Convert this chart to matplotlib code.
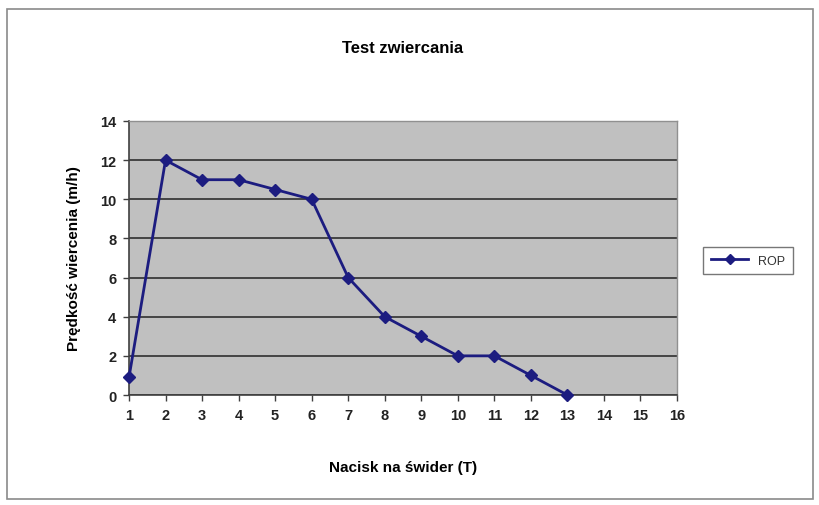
import matplotlib
matplotlib.use("Agg")
import matplotlib.pyplot as plt
from matplotlib.patches import Rectangle

plt.rcParams['font.family'] = ['Liberation Sans', 'DejaVu Sans']

nacisk = [1, 2, 3, 4, 5, 6, 7, 8, 9, 10, 11, 12, 13]
rop = [0.9, 12, 11, 11, 10.5, 10, 6, 4, 3, 2, 2, 1, 0]
xticks = list(range(1, 17))
yticks = [0, 2, 4, 6, 8, 10, 12, 14]

fig = plt.figure(figsize=(8.19, 5.06), dpi=100)
fig.patch.set_facecolor('white')
# outer chart border
fig.patches.append(Rectangle((7/819, 1-500/506), 806/819, 490/506, transform=fig.transFigure,
                             fill=False, edgecolor='#8a8a8a', linewidth=1.2))

ax = fig.add_axes([129/819, 1-396/506, 548/819, 274/506])
ax.set_facecolor('#C0C0C0')
ax.plot(nacisk, rop, color='#1C1C80', linewidth=2, marker='D', markersize=6,
        markerfacecolor='#1C1C80', markeredgecolor='#1C1C80', label='ROP', clip_on=False, zorder=5)
ax.set_xlim(1, 16)
ax.set_ylim(0, 14)
ax.set_xticks(xticks)
ax.set_yticks(yticks)
ax.yaxis.grid(True, color='#3a3a3a', linewidth=1.3)
ax.set_axisbelow(True)
for s in ['top', 'right']:
    ax.spines[s].set_color('#909090')
    ax.spines[s].set_linewidth(1.0)
for s in ['left', 'bottom']:
    ax.spines[s].set_color('#404040')
    ax.spines[s].set_linewidth(1.2)
ax.tick_params(axis='both', direction='out', length=4, width=1, color='#404040',
               labelsize=10.5, pad=5)
for lbl in ax.get_xticklabels() + ax.get_yticklabels():
    lbl.set_fontweight('bold')
    lbl.set_color('#222222')
ax.set_title('Test zwiercania', fontsize=12, fontweight='bold', pad=50)
ax.set_xlabel('Nacisk na świder (T)', fontsize=11, fontweight='bold', labelpad=28)
ax.set_ylabel('Prędkość wiercenia (m/h)', fontsize=11, fontweight='bold', labelpad=14)

leg = ax.legend(loc='upper left', bbox_to_anchor=(697/819, 1-242/506),
                bbox_transform=fig.transFigure, frameon=True, fancybox=False,
                fontsize=9, handlelength=3, borderpad=0.6, labelcolor='#333333',
                markerscale=0.8)
leg.get_frame().set_edgecolor('#555555')
leg.get_frame().set_linewidth(1.0)

fig.savefig('out.png', dpi=100)
